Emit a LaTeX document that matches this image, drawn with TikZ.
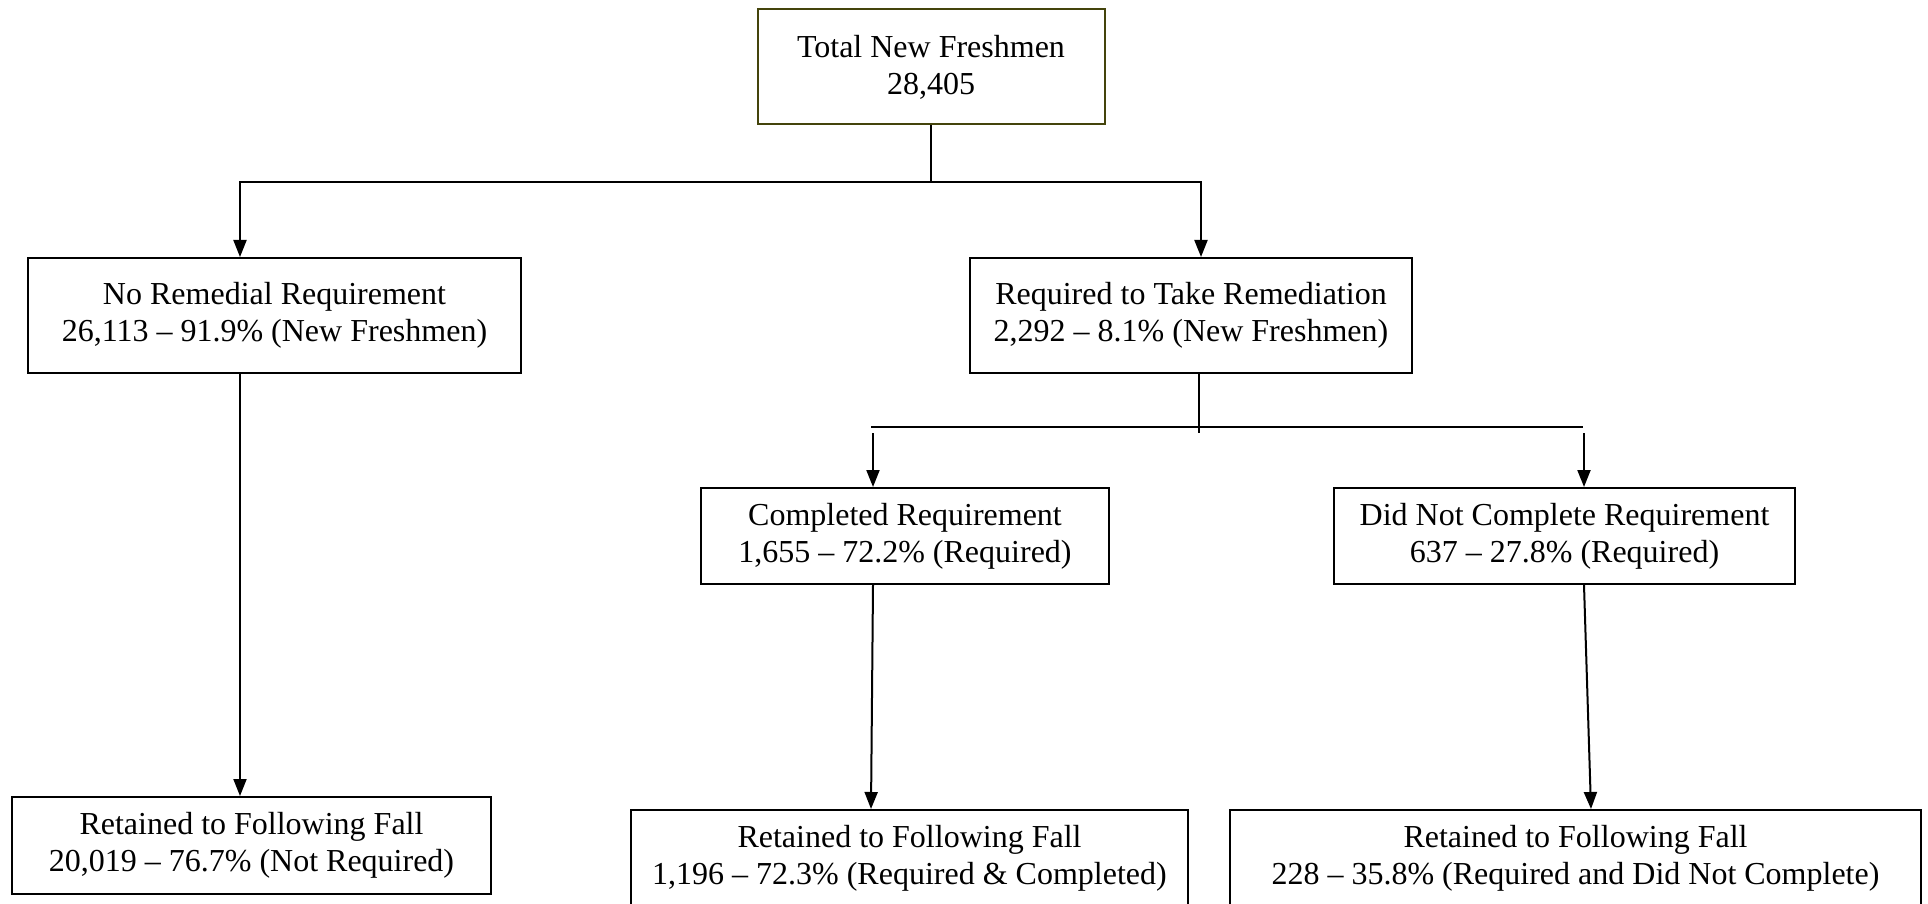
\documentclass[tikz,border=0pt]{standalone}
\usepackage{fontspec}
\setmainfont{Liberation Serif}
\usetikzlibrary{arrows.meta,positioning}
\definecolor{topolive}{RGB}{68,68,12}
\tikzset{
  flowbox/.style={draw, line width=2pt, align=center, inner sep=0pt,
                  font=\fontsize{32}{37}\selectfont},
  flowline/.style={line width=2pt},
  flowarrow/.style={flowline, -{Triangle[length=17pt,width=13pt]}}
}

\begin{document}
\begin{tikzpicture}[x=1pt,y=-1pt]
    \useasboundingbox (0,0) rectangle (1928,904);

    % Level 0
    \node[flowbox, draw=topolive, minimum width=347pt, minimum height=115pt]
      (total) at (931,67) {Total New Freshmen\\28,405};

    % Level 1
    \node[flowbox, minimum width=493pt, minimum height=115pt]
      (norem) at (274.5,315.5) {No Remedial Requirement\\26,113 – 91.9\% (New Freshmen)};
    \node[flowbox, minimum width=442pt, minimum height=115pt]
      (req) at (1191,315.5) {Required to Take Remediation\\2,292 – 8.1\% (New Freshmen)};

    % Level 2
    \node[flowbox, minimum width=408pt, minimum height=96pt]
      (comp) at (905,536) {Completed Requirement\\1,655 – 72.2\% (Required)};
    \node[flowbox, minimum width=461pt, minimum height=96pt]
      (notcomp) at (1564.5,536) {Did Not Complete Requirement\\637 – 27.8\% (Required)};

    % Level 3
    \node[flowbox, minimum width=479pt, minimum height=97pt]
      (retA) at (251.5,845.5) {Retained to Following Fall\\20,019 – 76.7\% (Not Required)};
    \node[flowbox, minimum width=557pt, minimum height=97pt]
      (retB) at (909.5,858.5) {Retained to Following Fall\\1,196 – 72.3\% (Required \& Completed)};
    \node[flowbox, minimum width=691pt, minimum height=97pt]
      (retC) at (1575.5,858.5) {Retained to Following Fall\\228 – 35.8\% (Required and Did Not Complete)};

    % Split from total
    \coordinate (split) at (931,182);
    \draw[flowline] (total.south) -- (split);
    \draw[flowarrow] (split) -| ([xshift=-34.5pt]norem.north);
    \draw[flowarrow] (split) -| ([xshift=10pt]req.north);

    % Split from required
    \coordinate (reqL) at (871,427);
    \coordinate (reqR) at (1583,427);
    \draw[flowline] ([xshift=8pt]req.south) -- ++(0,59);
    \draw[flowline] (reqL) -- (reqR);
    \draw[flowarrow] ([yshift=-6pt]reqL -| comp.north) ++(-32,0) -- ([xshift=-32pt]comp.north);
    \draw[flowarrow] ([yshift=-6pt]reqR -| notcomp.north) ++(19.5,0) -- ([xshift=19.5pt]notcomp.north);

    % Retention
    \draw[flowarrow] ([xshift=-34.5pt]norem.south) -- ([xshift=-11.5pt]retA.north);
    \draw[flowarrow] ([xshift=-32pt]comp.south) -- ([xshift=-38.5pt]retB.north);
    \draw[flowarrow] ([xshift=19.5pt]notcomp.south) -- ([xshift=15.5pt]retC.north);
\end{tikzpicture}
\end{document}
